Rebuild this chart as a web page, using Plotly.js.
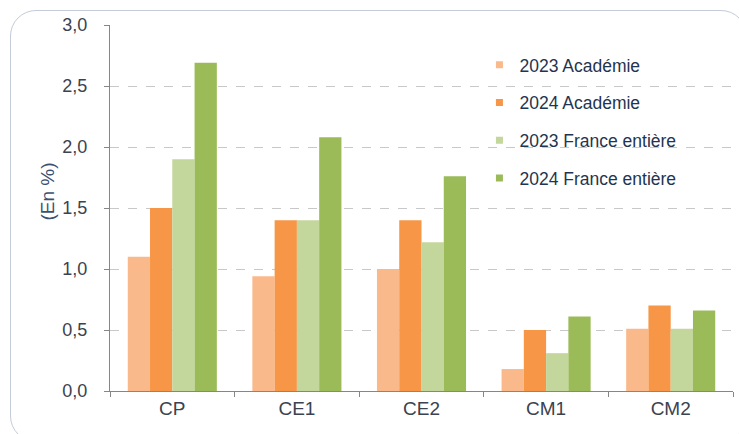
<!DOCTYPE html>
<html>
<head>
<meta charset="utf-8">
<script src="https://cdn.plot.ly/plotly-3.0.1.min.js"></script>
<style>
  body { margin: 0; background: #fff; overflow: hidden; }
  #frame { position: absolute; left: 10px; top: 10px; width: 735px; height: 430px;
           border: 1.5px solid #c3ccd8; border-radius: 26px; }
  #chart { position: absolute; left: 0; top: 0; width: 739px; height: 434px; }
</style>
</head>
<body>
<div id="frame"></div>
<div id="chart"></div>
<script>
var niveaux = ["CP", "CE1", "CE2", "CM1", "CM2"];
var acad2023 = [1.1, 0.94, 1.0, 0.18, 0.51];
var acad2024 = [1.5, 1.4, 1.4, 0.5, 0.7];
var france2023 = [1.9, 1.4, 1.22, 0.31, 0.51];
var france2024 = [2.69, 2.08, 1.76, 0.61, 0.66];

var noms = ["2023 Académie", "2024 Académie", "2023 France entière", "2024 France entière"];
var couleurs = ["#fab98b", "#f79646", "#c3d69b", "#9bbb59"];
var series = [acad2023, acad2024, france2023, france2024];

var data = [];
for (var i = 0; i < series.length; i++) {
  data.push({
    x: niveaux,
    y: series[i],
    type: 'bar',
    name: noms[i],
    marker: {color: couleurs[i]},
    showlegend: false,
    hoverinfo: 'y'
  });
}
// legend entries with small square markers
for (var i = 0; i < series.length; i++) {
  data.push({
    x: [null],
    y: [null],
    type: 'scatter',
    mode: 'markers',
    name: noms[i],
    legendgroup: 'g' + i,
    marker: {color: couleurs[i], symbol: 'square', size: 7}
  });
}

var layout = {
  width: 739,
  height: 434,
  margin: {l: 110, r: 6, t: 25, b: 43},
  paper_bgcolor: 'rgba(0,0,0,0)',
  plot_bgcolor: 'rgba(0,0,0,0)',
  font: {family: 'Liberation Sans, Arial, sans-serif', size: 18, color: '#3b4250'},
  separators: ', ',
  barmode: 'group',
  bargap: 0.285,
  bargroupgap: 0,
  showlegend: true,
  legend: {
    x: 0.593, y: 0.94, xanchor: 'left', yanchor: 'top',
    bgcolor: 'rgba(0,0,0,0)',
    font: {size: 17.5, color: '#1f3550'},
    tracegroupgap: 12
  },
  xaxis: {
    type: 'category',
    showline: true, linecolor: '#868686', linewidth: 1,
    ticks: 'outside', tickson: 'boundaries', ticklen: 5, tickcolor: '#868686',
    showgrid: false,
    tickfont: {size: 19, color: '#3b4250'}
  },
  yaxis: {
    range: [0, 3],
    dtick: 0.5,
    tickformat: '.1f',
    showline: true, linecolor: '#868686', linewidth: 1,
    ticks: 'outside', ticklen: 5, tickcolor: '#868686',
    ticklabelstandoff: 13,
    showgrid: true, gridcolor: '#c8c8c8', griddash: 'dash', gridwidth: 1,
    zeroline: false,
    tickfont: {size: 18, color: '#3b4250'}
  },
  annotations: [{
    text: '(En %)',
    xref: 'paper', yref: 'paper',
    x: -0.101, y: 0.545,
    xanchor: 'center', yanchor: 'middle',
    textangle: -90,
    showarrow: false,
    font: {size: 19, color: '#3c5070'}
  }]
};

Plotly.newPlot('chart', data, layout, {displayModeBar: false, staticPlot: true});
</script>
</body>
</html>
